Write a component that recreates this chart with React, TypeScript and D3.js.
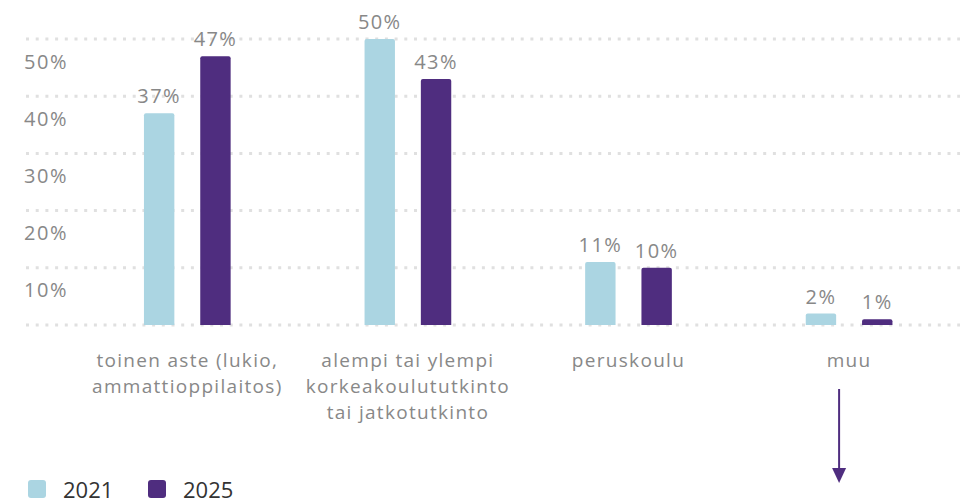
import React from "react";
import * as d3 from "d3";

const categories = ["toinen aste", "alempi tai ylempi", "peruskoulu", "muu"];
const categoryLabels: string[][] = [
  ["toinen aste (lukio,", "ammattioppilaitos)"],
  ["alempi tai ylempi", "korkeakoulututkinto", "tai jatkotutkinto"],
  ["peruskoulu"],
  ["muu"],
];
const seriesNames = ["2021", "2025"];
const values2021 = [37, 50, 11, 2];
const values2025 = [47, 43, 10, 1];
const yTicks = [10, 20, 30, 40, 50];
const gridValues = [0, 10, 20, 30, 40, 50];
const colors = ["#abd5e2", "#4f2d7f"];

const W = 966;
const H = 503;
const FONT = "'Open Sans', sans-serif";

export default function App() {
  const y = d3.scaleLinear().domain([0, 50]).range([325, 39]);
  const x = d3
    .scaleBand<string>()
    .domain(categories)
    .range([77, 959.4])
    .paddingInner(0.607)
    .paddingOuter(0.3035);
  const xs = d3
    .scaleBand<string>()
    .domain(seriesNames)
    .range([0, x.bandwidth()])
    .paddingInner(0.46);
  const series = [values2021, values2025];
  const muuCenter = (x("muu") as number) + x.bandwidth() / 2;

  return (
    <svg
      width={W}
      height={H}
      style={{ position: "absolute", left: 0, top: 0, background: "#fff" }}
      fontFamily={FONT}
    >
      {gridValues.map((g) => (
        <line
          key={g}
          x1={26}
          x2={960}
          y1={y(g)}
          y2={y(g)}
          stroke="#e0e0e0"
          strokeWidth={3}
          strokeDasharray="3 6.7"
        />
      ))}
      {yTicks.map((t) => (
        <text
          key={t}
          x={24}
          y={y(t) + 29.5}
          fontSize={20}
          fill="#888"
          letterSpacing={1.6}
        >
          {t}%
        </text>
      ))}
      {categories.map((c, i) =>
        series.map((vals, s) => {
          const bx = (x(c) as number) + (xs(seriesNames[s]) as number);
          const top = y(vals[i]);
          return (
            <g key={c + s}>
              <path
                d={`M${bx},${y(0)} V${top + 2} Q${bx},${top} ${bx + 2},${top} H${bx + xs.bandwidth() - 2} Q${bx + xs.bandwidth()},${top} ${bx + xs.bandwidth()},${top + 2} V${y(0)} Z`}
                fill={colors[s]}
              />
              <text
                x={bx + xs.bandwidth() / 2}
                y={top - 10}
                textAnchor="middle"
                fontSize={20}
                fill="#888"
                letterSpacing={1.4}
              >
                {vals[i]}%
              </text>
            </g>
          );
        })
      )}
      {categories.map((c, i) => (
        <text
          key={c}
          x={(x(c) as number) + x.bandwidth() / 2}
          y={367}
          textAnchor="middle"
          fontSize={19}
          fill="#888"
          letterSpacing={1.3}
        >
          {categoryLabels[i].map((l, k) => (
            <tspan key={k} x={(x(c) as number) + x.bandwidth() / 2} dy={k === 0 ? 0 : 26}>
              {l}
            </tspan>
          ))}
        </text>
      ))}
      <line x1={muuCenter - 10} x2={muuCenter - 10} y1={389} y2={470} stroke={colors[1]} strokeWidth={2} />
      <path
        d={`M${muuCenter - 17},${468} L${muuCenter - 3},${468} L${muuCenter - 10},${483} Z`}
        fill={colors[1]}
      />
      {seriesNames.map((s, i) => (
        <g key={s} transform={`translate(${28 + i * 120},480)`}>
          <rect width={18} height={18} rx={3} fill={colors[i]} />
          <text x={35} y={18} fontSize={22} fill="#333">
            {s}
          </text>
        </g>
      ))}
    </svg>
  );
}
